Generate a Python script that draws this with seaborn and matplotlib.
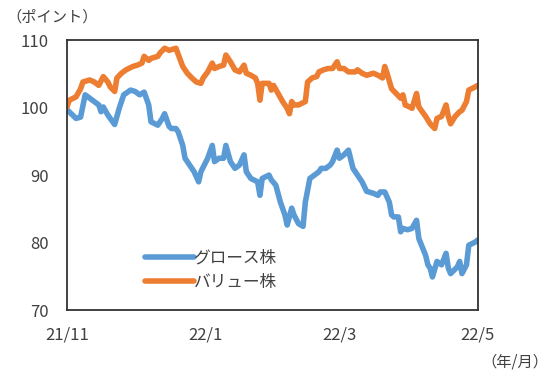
import matplotlib
matplotlib.use("Agg")
import matplotlib.pyplot as plt
import pandas as pd
import seaborn as sns

# グロース株 (growth) index, 2021/11/1 = 100
growth_dates = [
    "2021-11-01", "2021-11-05", "2021-11-07", "2021-11-09", "2021-11-11", "2021-11-13",
    "2021-11-15", "2021-11-16", "2021-11-17", "2021-11-19", "2021-11-22", "2021-11-24",
    "2021-11-26", "2021-11-29", "2021-12-01", "2021-12-03", "2021-12-05", "2021-12-07",
    "2021-12-08", "2021-12-11", "2021-12-13", "2021-12-14", "2021-12-16", "2021-12-17",
    "2021-12-19", "2021-12-20", "2021-12-22", "2021-12-23", "2021-12-25", "2021-12-27",
    "2021-12-29", "2021-12-30", "2022-01-02", "2022-01-04", "2022-01-05", "2022-01-07",
    "2022-01-09", "2022-01-10", "2022-01-12", "2022-01-14", "2022-01-16", "2022-01-18",
    "2022-01-19", "2022-01-21", "2022-01-24", "2022-01-25", "2022-01-26", "2022-01-29",
    "2022-01-30", "2022-02-01", "2022-02-03", "2022-02-05", "2022-02-06", "2022-02-08",
    "2022-02-09", "2022-02-11", "2022-02-13", "2022-02-14", "2022-02-16", "2022-02-18",
    "2022-02-20", "2022-02-21", "2022-02-23", "2022-02-25", "2022-02-26", "2022-02-28",
    "2022-03-01", "2022-03-03", "2022-03-05", "2022-03-07", "2022-03-09", "2022-03-11",
    "2022-03-13", "2022-03-16", "2022-03-18", "2022-03-19", "2022-03-21", "2022-03-23",
    "2022-03-24", "2022-03-25", "2022-03-27", "2022-03-28", "2022-03-29", "2022-03-31",
    "2022-04-02", "2022-04-04", "2022-04-05", "2022-04-08", "2022-04-09", "2022-04-10",
    "2022-04-11", "2022-04-13", "2022-04-15", "2022-04-17", "2022-04-18", "2022-04-19",
    "2022-04-22", "2022-04-23", "2022-04-24", "2022-04-26", "2022-04-27", "2022-04-30",
    "2022-05-01",
]
growth_values = [
    99.7, 98.4, 98.6, 101.9, 101.4, 100.9,
    100.4, 99.4, 100.1, 98.9, 97.5, 99.9,
    101.9, 102.6, 102.4, 101.9, 102.3, 100.4,
    97.9, 97.4, 98.4, 99.1, 97.2, 96.9,
    96.9, 96.4, 94.4, 92.5, 91.5, 90.5,
    89.0, 90.5, 92.5, 94.4, 92.0, 92.5,
    92.5, 94.4, 92.0, 91.0, 91.5, 93.0,
    90.5, 89.5, 89.0, 87.0, 89.5, 90.0,
    89.3, 88.5, 86.0, 84.1, 82.6, 85.1,
    84.1, 82.8, 82.4, 86.0, 89.5, 90.0,
    90.5, 91.0, 91.0, 91.5, 92.0, 93.7,
    92.5, 93.0, 93.7, 91.0, 90.0, 89.0,
    87.6, 87.3, 87.0, 87.5, 87.5, 86.0,
    84.1, 83.8, 83.8, 81.6, 82.1, 81.9,
    82.1, 83.3, 80.6, 78.1, 76.7, 76.2,
    74.9, 77.2, 76.7, 78.4, 76.2, 75.4,
    76.4, 77.2, 75.4, 76.7, 79.6, 80.1,
    80.4,
]

# バリュー株 (value) index, 2021/11/1 = 100
value_dates = [
    "2021-11-01", "2021-11-02", "2021-11-05", "2021-11-07", "2021-11-08", "2021-11-11",
    "2021-11-13", "2021-11-15", "2021-11-17", "2021-11-19", "2021-11-20", "2021-11-22",
    "2021-11-23", "2021-11-25", "2021-11-27", "2021-11-30", "2021-12-02", "2021-12-04",
    "2021-12-05", "2021-12-07", "2021-12-08", "2021-12-11", "2021-12-12", "2021-12-14",
    "2021-12-16", "2021-12-19", "2021-12-21", "2021-12-22", "2021-12-24", "2021-12-26",
    "2021-12-28", "2021-12-30", "2021-12-31", "2022-01-02", "2022-01-04", "2022-01-05",
    "2022-01-07", "2022-01-09", "2022-01-10", "2022-01-12", "2022-01-14", "2022-01-16",
    "2022-01-18", "2022-01-19", "2022-01-21", "2022-01-23", "2022-01-24", "2022-01-25",
    "2022-01-26", "2022-01-29", "2022-01-30", "2022-01-31", "2022-02-02", "2022-02-04",
    "2022-02-06", "2022-02-07", "2022-02-08", "2022-02-09", "2022-02-11", "2022-02-14",
    "2022-02-15", "2022-02-17", "2022-02-19", "2022-02-20", "2022-02-22", "2022-02-24",
    "2022-02-26", "2022-02-28", "2022-03-01", "2022-03-03", "2022-03-05", "2022-03-08",
    "2022-03-09", "2022-03-11", "2022-03-13", "2022-03-16", "2022-03-18", "2022-03-19",
    "2022-03-20", "2022-03-21", "2022-03-22", "2022-03-24", "2022-03-26", "2022-03-28",
    "2022-03-29", "2022-03-30", "2022-04-01", "2022-04-02", "2022-04-04", "2022-04-05",
    "2022-04-08", "2022-04-10", "2022-04-12", "2022-04-13", "2022-04-15", "2022-04-17",
    "2022-04-18", "2022-04-19", "2022-04-21", "2022-04-23", "2022-04-24", "2022-04-26",
    "2022-04-27", "2022-04-30", "2022-05-01",
]
value_values = [
    100.1, 101.1, 101.6, 102.8, 103.8, 104.1,
    103.8, 103.3, 104.6, 103.8, 103.1, 102.4,
    104.4, 105.1, 105.6, 106.1, 106.3, 106.6,
    107.6, 107.0, 107.3, 107.6, 108.1, 108.8,
    108.5, 108.8, 107.0, 106.1, 105.1, 104.4,
    103.8, 103.6, 104.4, 105.3, 106.6, 105.8,
    106.1, 106.3, 107.8, 106.8, 105.6, 105.3,
    106.3, 105.1, 104.8, 104.4, 103.6, 101.1,
    103.6, 103.6, 102.6, 103.3, 102.1, 100.9,
    99.9, 99.1, 100.9, 100.4, 100.4, 100.9,
    103.8, 104.4, 104.6, 105.3, 105.6, 105.8,
    105.8, 106.8, 105.8, 105.8, 105.3, 105.3,
    105.6, 105.1, 104.8, 105.1, 104.8, 104.6,
    104.4, 106.1, 105.1, 102.8, 102.1, 101.4,
    101.9, 100.4, 100.1, 99.9, 102.1, 100.1,
    98.7, 97.6, 96.9, 98.4, 98.7, 100.4,
    98.7, 97.6, 98.7, 99.4, 99.6, 100.9,
    102.6, 103.1, 103.3,
]

series_names = ["グロース株", "バリュー株"]
series_colors = ["#5B9BD5", "#ED7D31"]
y_ticks = [70, 80, 90, 100, 110]
x_ticks = ["2021-11-01", "2022-01-01", "2022-03-01", "2022-05-01"]
x_ticklabels = ["21/11", "22/1", "22/3", "22/5"]

df = pd.concat([
    pd.DataFrame({"date": pd.to_datetime(growth_dates), "value": growth_values, "series": series_names[0]}),
    pd.DataFrame({"date": pd.to_datetime(value_dates), "value": value_values, "series": series_names[1]}),
])

sns.set_style("white")
plt.rcParams["font.family"] = ["Noto Sans CJK JP", "DejaVu Sans"]

fig = plt.figure(figsize=(5.5, 3.79), dpi=100)
ax = fig.add_axes([0.1218, 0.182, 0.747, 0.712])

sns.lineplot(data=df, x="date", y="value", hue="series", palette=series_colors,
             linewidth=4.0, ax=ax, legend=True,
             solid_joinstyle="round", solid_capstyle="round")

ax.set_xlim(pd.Timestamp("2021-11-01"), pd.Timestamp("2022-05-01"))
ax.set_ylim(70, 110)
ax.set_yticks(y_ticks)
ax.set_xticks(pd.to_datetime(x_ticks))
ax.set_xticklabels(x_ticklabels)
ax.set_xlabel("")
ax.set_ylabel("")

for s in ax.spines.values():
    s.set_color("#333333")
    s.set_linewidth(1.3)
ax.tick_params(axis="both", direction="in", length=5, width=1.3, color="#333333",
               labelsize=12, labelcolor="#404040")
ax.tick_params(axis="x", pad=12)
ax.tick_params(axis="y", pad=13)

leg = ax.legend(loc="lower left", bbox_to_anchor=(0.17, 0.04), frameon=False,
                handlelength=2.9, handletextpad=0.0, labelspacing=0.45,
                fontsize=12, borderpad=0)
for line in leg.get_lines():
    line.set_linewidth(4.0)
    line.set_solid_capstyle("round")
for t in leg.get_texts():
    t.set_color("#404040")

fig.text(0.012, 0.955, "（ポイント）", fontsize=11, color="#404040", ha="left", va="center")
fig.text(0.997, 0.045, "（年/月）", fontsize=11, color="#404040", ha="right", va="center")

fig.savefig("out.png", dpi=100)
